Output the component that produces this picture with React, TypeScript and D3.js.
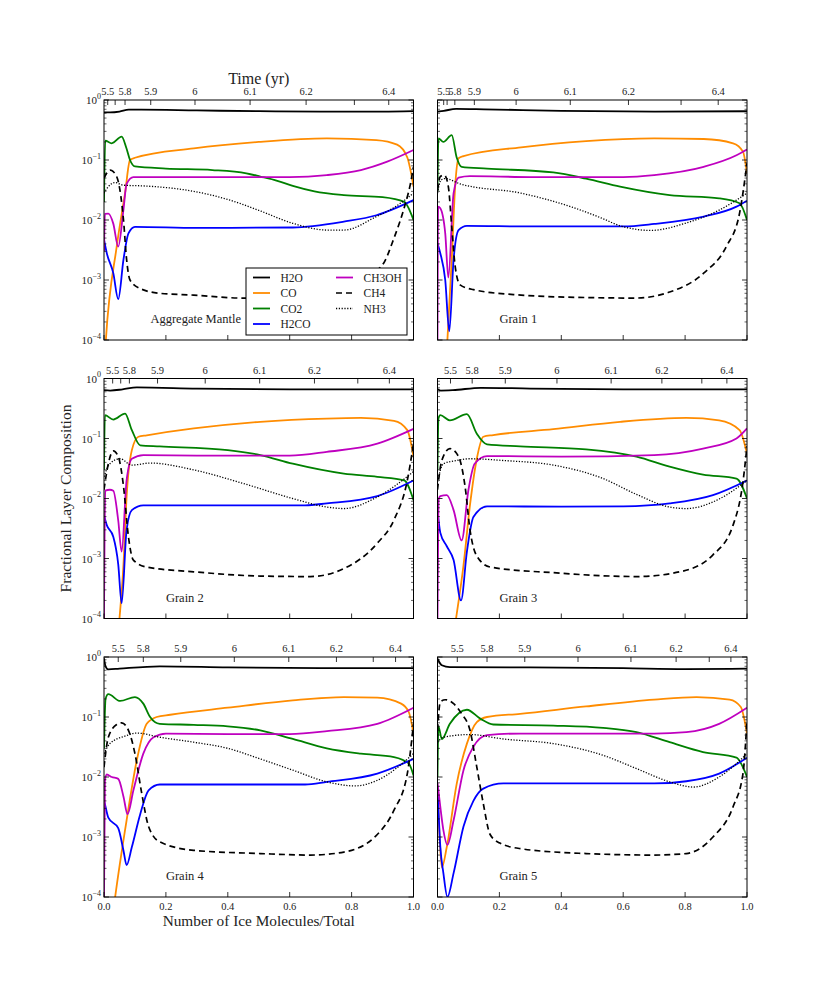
import React from "react";
import * as d3 from "d3";

// species in plotting / legend order
const SPECIES = ["H2O", "CO", "CO2", "H2CO", "CH3OH", "CH4", "NH3"];
const COLORS: Record<string, string> = {
  H2O: "#000000",
  CO: "#ff8c00",
  CO2: "#008000",
  H2CO: "#0000ff",
  CH3OH: "#bf00bf",
  CH4: "#000000",
  NH3: "#000000",
};

// [fraction of ice molecules, fractional composition]
const AGG_H2O = [[0, 0.62], [0.02, 0.62], [0.05, 0.64], [0.08, 0.69], [0.12, 0.69], [0.3, 0.67], [0.5, 0.65], [0.7, 0.64], [0.9, 0.64], [1, 0.65]];
const AGG_CO = [[0, 0.00003], [0.006, 0.0001], [0.041, 0.0036], [0.068, 0.028], [0.084, 0.1], [0.1, 0.109], [0.29, 0.156], [0.5, 0.2], [0.72, 0.23], [0.88, 0.215], [0.947, 0.18], [0.98, 0.11], [1, 0.036]];
const AGG_CO2 = [[0, 0.02], [0.004, 0.21], [0.025, 0.19], [0.057, 0.245], [0.072, 0.16], [0.084, 0.1], [0.1, 0.078], [0.2, 0.072], [0.35, 0.068], [0.46, 0.06], [0.505, 0.053], [0.56, 0.045], [0.61, 0.037], [0.68, 0.03], [0.775, 0.026], [0.9, 0.024], [0.97, 0.02], [1, 0.01]];
const AGG_H2CO = [[0, 0.0047], [0.009, 0.0028], [0.03, 0.0013], [0.046, 0.00048], [0.063, 0.0022], [0.079, 0.006], [0.1, 0.0077], [0.3, 0.0074], [0.61, 0.0075], [0.775, 0.0094], [0.88, 0.012], [1, 0.0215]];
const AGG_CH3OH = [[0, 0.003], [0.003, 0.0126], [0.014, 0.0128], [0.03, 0.0087], [0.046, 0.0036], [0.063, 0.015], [0.073, 0.04], [0.095, 0.052], [0.3, 0.052], [0.6, 0.052], [0.72, 0.056], [0.83, 0.068], [0.915, 0.094], [1, 0.147]];
const AGG_CH4 = [[0, 0.05], [0.02, 0.068], [0.03, 0.064], [0.046, 0.044], [0.063, 0.01], [0.073, 0.0022], [0.084, 0.001], [0.117, 0.00072], [0.18, 0.0006], [0.29, 0.00056], [0.45, 0.0005], [0.6, 0.0005], [0.72, 0.00058], [0.82, 0.001], [0.9, 0.0018], [0.937, 0.005], [0.97, 0.016], [0.99, 0.04], [1, 0.077]];
const AGG_NH3 = [[0, 0.028], [0.014, 0.036], [0.036, 0.042], [0.063, 0.038], [0.127, 0.037], [0.29, 0.03], [0.4, 0.022], [0.5, 0.0145], [0.61, 0.0088], [0.72, 0.0068], [0.775, 0.0068], [0.88, 0.0114], [0.94, 0.0165], [1, 0.028]];

const G1_H2O = [[0, 0.64], [0.02, 0.66], [0.06, 0.71], [0.15, 0.7], [0.4, 0.66], [0.7, 0.64], [1, 0.65]];
const G1_CO = [[0, 0.000001], [0.032, 0.0001], [0.046, 0.0022], [0.057, 0.036], [0.068, 0.107], [0.084, 0.116], [0.27, 0.163], [0.48, 0.207], [0.7, 0.23], [0.86, 0.224], [0.955, 0.19], [0.987, 0.138], [1, 0.06]];
const G1_CO2 = [[0, 0.03], [0.003, 0.23], [0.019, 0.2], [0.046, 0.26], [0.062, 0.11], [0.078, 0.077], [0.16, 0.072], [0.374, 0.062], [0.48, 0.049], [0.59, 0.036], [0.75, 0.026], [0.91, 0.023], [0.976, 0.019], [1, 0.01]];
const G1_H2CO = [[0, 0.0041], [0.009, 0.0028], [0.025, 0.001], [0.038, 0.00014], [0.052, 0.0022], [0.068, 0.0068], [0.095, 0.008], [0.3, 0.0078], [0.6, 0.0078], [0.7, 0.0086], [0.86, 0.0114], [0.966, 0.0167], [1, 0.021]];
const G1_CH3OH = [[0, 0.0001], [0.002, 0.0167], [0.009, 0.0157], [0.025, 0.006], [0.035, 0.0011], [0.052, 0.028], [0.068, 0.051], [0.105, 0.054], [0.3, 0.052], [0.6, 0.052], [0.7, 0.056], [0.86, 0.077], [0.966, 0.12], [1, 0.15]];
const G1_CH4 = [[0, 0.031], [0.009, 0.053], [0.022, 0.056], [0.035, 0.036], [0.046, 0.0077], [0.057, 0.0017], [0.073, 0.00083], [0.116, 0.00069], [0.27, 0.00056], [0.48, 0.00051], [0.64, 0.0005], [0.75, 0.00063], [0.86, 0.0013], [0.933, 0.0036], [0.976, 0.013], [1, 0.088]];
const G1_NH3 = [[0, 0.028], [0.011, 0.046], [0.025, 0.049], [0.073, 0.04], [0.27, 0.028], [0.43, 0.0167], [0.535, 0.0105], [0.59, 0.008], [0.69, 0.0067], [0.8, 0.0088], [0.91, 0.0146], [1, 0.028]];

const G2_H2O = [[0, 0.64], [0.02, 0.63], [0.06, 0.66], [0.106, 0.71], [0.3, 0.68], [0.6, 0.66], [1, 0.66]];
const G2_CO = [[0, 0.000001], [0.05, 0.0001], [0.063, 0.0008], [0.073, 0.0106], [0.09, 0.064], [0.111, 0.107], [0.138, 0.113], [0.29, 0.147], [0.505, 0.19], [0.72, 0.215], [0.83, 0.22], [0.937, 0.197], [0.98, 0.138], [1, 0.05]];
const G2_CO2 = [[0, 0.03], [0.003, 0.245], [0.03, 0.207], [0.068, 0.26], [0.09, 0.138], [0.117, 0.077], [0.18, 0.074], [0.4, 0.064], [0.505, 0.053], [0.61, 0.038], [0.775, 0.026], [0.883, 0.023], [0.97, 0.02], [1, 0.0094]];
const G2_H2CO = [[0, 0.0052], [0.009, 0.0036], [0.03, 0.0023], [0.046, 0.0008], [0.057, 0.00018], [0.073, 0.003], [0.09, 0.0064], [0.127, 0.0077], [0.4, 0.0077], [0.65, 0.0077], [0.72, 0.0083], [0.883, 0.011], [1, 0.02]];
const G2_CH3OH = [[0, 0.0001], [0.004, 0.0135], [0.019, 0.014], [0.03, 0.0135], [0.046, 0.0043], [0.057, 0.0013], [0.073, 0.02], [0.09, 0.046], [0.127, 0.053], [0.3, 0.052], [0.6, 0.052], [0.72, 0.06], [0.883, 0.082], [1, 0.145]];
const G2_CH4 = [[0, 0.014], [0.014, 0.038], [0.03, 0.062], [0.046, 0.05], [0.063, 0.016], [0.079, 0.0023], [0.095, 0.00094], [0.138, 0.00072], [0.29, 0.0006], [0.505, 0.00051], [0.667, 0.0005], [0.775, 0.00068], [0.883, 0.0018], [0.937, 0.0044], [0.98, 0.02], [1, 0.082]];
const G2_NH3 = [[0, 0.023], [0.019, 0.038], [0.052, 0.046], [0.09, 0.036], [0.149, 0.039], [0.29, 0.03], [0.45, 0.0178], [0.61, 0.01], [0.72, 0.0072], [0.775, 0.0068], [0.883, 0.0106], [1, 0.028]];

const G3_H2O = [[0, 0.66], [0.01, 0.63], [0.05, 0.64], [0.14, 0.7], [0.3, 0.68], [0.6, 0.66], [1, 0.66]];
const G3_CO = [[0, 0.000001], [0.06, 0.0001], [0.084, 0.00077], [0.105, 0.0078], [0.127, 0.046], [0.148, 0.107], [0.18, 0.114], [0.374, 0.143], [0.59, 0.19], [0.804, 0.22], [0.91, 0.2], [0.976, 0.138], [1, 0.056]];
const G3_CO2 = [[0, 0.03], [0.003, 0.215], [0.009, 0.245], [0.04, 0.2], [0.095, 0.255], [0.127, 0.12], [0.16, 0.08], [0.267, 0.074], [0.48, 0.066], [0.643, 0.05], [0.75, 0.034], [0.858, 0.025], [0.966, 0.0215], [1, 0.01]];
const G3_H2CO = [[0, 0.0064], [0.009, 0.0027], [0.03, 0.0016], [0.052, 0.00094], [0.076, 0.0002], [0.095, 0.0013], [0.116, 0.0049], [0.16, 0.0074], [0.4, 0.0073], [0.6, 0.0074], [0.75, 0.0083], [0.89, 0.0114], [1, 0.02]];
const G3_CH3OH = [[0, 0.0001], [0.003, 0.0094], [0.009, 0.011], [0.03, 0.0114], [0.052, 0.0064], [0.078, 0.002], [0.1, 0.014], [0.12, 0.038], [0.16, 0.051], [0.4, 0.05], [0.7, 0.053], [0.858, 0.068], [0.966, 0.1], [1, 0.147]];
const G3_CH4 = [[0, 0.014], [0.014, 0.043], [0.04, 0.068], [0.068, 0.05], [0.089, 0.016], [0.105, 0.003], [0.127, 0.0011], [0.17, 0.00072], [0.374, 0.00058], [0.643, 0.0005], [0.783, 0.0006], [0.89, 0.00115], [0.955, 0.0036], [0.987, 0.019], [1, 0.074]];
const G3_NH3 = [[0, 0.019], [0.019, 0.038], [0.062, 0.043], [0.105, 0.046], [0.213, 0.043], [0.374, 0.036], [0.535, 0.0215], [0.643, 0.0117], [0.75, 0.0072], [0.804, 0.0068], [0.91, 0.0098], [1, 0.02]];

const G4_H2O = [[0, 0.95], [0.005, 0.7], [0.014, 0.62], [0.05, 0.64], [0.18, 0.7], [0.4, 0.67], [0.7, 0.65], [1, 0.655]];
const G4_CO = [[0, 0.000003], [0.036, 0.0001], [0.073, 0.0019], [0.106, 0.019], [0.138, 0.077], [0.17, 0.1], [0.214, 0.109], [0.4, 0.143], [0.61, 0.19], [0.775, 0.215], [0.883, 0.21], [0.96, 0.167], [0.985, 0.12], [1, 0.053]];
const G4_CO2 = [[0, 0.03], [0.005, 0.2], [0.014, 0.24], [0.052, 0.185], [0.1, 0.215], [0.127, 0.167], [0.149, 0.1], [0.18, 0.077], [0.29, 0.074], [0.4, 0.07], [0.505, 0.06], [0.61, 0.043], [0.72, 0.03], [0.83, 0.0245], [0.937, 0.0215], [0.985, 0.0167], [1, 0.0106]];
const G4_H2CO = [[0, 0.004], [0.003, 0.0035], [0.014, 0.0021], [0.046, 0.0014], [0.063, 0.00059], [0.073, 0.00034], [0.09, 0.00068], [0.117, 0.0024], [0.144, 0.006], [0.18, 0.0075], [0.4, 0.0075], [0.65, 0.0075], [0.72, 0.0083], [0.883, 0.0114], [1, 0.02]];
const G4_CH3OH = [[0, 0.0001], [0.003, 0.0088], [0.009, 0.011], [0.025, 0.01], [0.046, 0.0093], [0.063, 0.0047], [0.076, 0.0024], [0.095, 0.006], [0.127, 0.0245], [0.16, 0.046], [0.2, 0.053], [0.4, 0.052], [0.6, 0.052], [0.72, 0.058], [0.883, 0.077], [1, 0.143]];
const G4_CH4 = [[0, 0.0146], [0.014, 0.046], [0.041, 0.075], [0.057, 0.08], [0.079, 0.06], [0.1, 0.0245], [0.122, 0.0053], [0.144, 0.0015], [0.18, 0.00083], [0.29, 0.0006], [0.505, 0.00053], [0.667, 0.0005], [0.775, 0.00056], [0.883, 0.0011], [0.937, 0.0028], [0.98, 0.0114], [1, 0.077]];
const G4_NH3 = [[0, 0.0245], [0.019, 0.036], [0.073, 0.049], [0.106, 0.054], [0.18, 0.046], [0.29, 0.038], [0.4, 0.03], [0.505, 0.02], [0.61, 0.013], [0.72, 0.0083], [0.81, 0.0071], [0.883, 0.0088], [1, 0.0245]];

const G5_H2O = [[0, 0.94], [0.014, 0.73], [0.04, 0.68], [0.3, 0.67], [0.6, 0.65], [0.8, 0.63], [1, 0.64]];
const G5_CO = [[0, 0.006], [0.006, 0.0012], [0.014, 0.00031], [0.03, 0.00068], [0.062, 0.0077], [0.095, 0.036], [0.127, 0.082], [0.16, 0.1], [0.267, 0.113], [0.48, 0.15], [0.7, 0.195], [0.837, 0.215], [0.944, 0.195], [0.98, 0.147], [1, 0.053]];
const G5_CO2 = [[0, 0.01], [0.003, 0.07], [0.014, 0.043], [0.04, 0.077], [0.095, 0.132], [0.138, 0.094], [0.18, 0.075], [0.374, 0.072], [0.535, 0.066], [0.643, 0.056], [0.75, 0.038], [0.858, 0.026], [0.966, 0.021], [1, 0.01]];
const G5_H2CO = [[0, 0.007], [0.009, 0.0007], [0.019, 0.00025], [0.032, 0.0001], [0.052, 0.00025], [0.084, 0.0015], [0.116, 0.004], [0.148, 0.0064], [0.213, 0.0078], [0.5, 0.0078], [0.7, 0.0078], [0.804, 0.0085], [0.91, 0.0114], [1, 0.021]];
const G5_CH3OH = [[0, 0.008], [0.009, 0.0032], [0.019, 0.0013], [0.032, 0.00074], [0.052, 0.0019], [0.084, 0.013], [0.116, 0.032], [0.16, 0.05], [0.267, 0.053], [0.5, 0.053], [0.7, 0.053], [0.804, 0.056], [0.91, 0.077], [1, 0.143]];
const G5_CH4 = [[0, 0.06], [0.009, 0.178], [0.025, 0.194], [0.052, 0.167], [0.078, 0.113], [0.105, 0.06], [0.127, 0.0146], [0.148, 0.0036], [0.17, 0.0011], [0.2, 0.0008], [0.267, 0.00064], [0.48, 0.00053], [0.7, 0.0005], [0.804, 0.00053], [0.89, 0.001], [0.955, 0.0032], [0.987, 0.0114], [1, 0.088]];
const G5_NH3 = [[0, 0.038], [0.019, 0.046], [0.105, 0.051], [0.213, 0.043], [0.374, 0.036], [0.535, 0.023], [0.643, 0.0138], [0.75, 0.0083], [0.826, 0.0068], [0.91, 0.01], [1, 0.0245]];

// top (time) axis: tick position as fraction of the x range, and its label
const TOP_LABELS_9 = ["5.5", "", "5.8", "5.9", "6", "6.1", "6.2", "", "6.4"];
const TOP_LABELS_8 = ["5.5", "5.8", "5.9", "6", "6.1", "6.2", "", "6.4"];
const AGG_TOP = [0.012, 0.036, 0.068, 0.151, 0.294, 0.472, 0.653, 0.809, 0.92];
const G1_TOP = [0.02, 0.031, 0.056, 0.119, 0.254, 0.429, 0.617, 0.787, 0.907];
const G2_TOP = [0.028, 0.054, 0.082, 0.173, 0.327, 0.503, 0.68, 0.82, 0.922];
const G3_TOP = [0.042, 0.112, 0.219, 0.386, 0.561, 0.725, 0.854, 0.935];
const G4_TOP = [0.046, 0.127, 0.248, 0.421, 0.597, 0.751, 0.87, 0.942];
const G5_TOP = [0.064, 0.16, 0.282, 0.454, 0.625, 0.771, 0.878, 0.948];

const BOTTOM_TICKS = [0, 0.2, 0.4, 0.6, 0.8, 1.0];
const Y_DECADES = [0, -1, -2, -3, -4];

const panels = [
  { name: "Aggregate Mantle", nameAt: 0.15, col: 0, row: 0, top: AGG_TOP, topLabels: TOP_LABELS_9,
    series: [AGG_H2O, AGG_CO, AGG_CO2, AGG_H2CO, AGG_CH3OH, AGG_CH4, AGG_NH3] },
  { name: "Grain 1", nameAt: 0.2, col: 1, row: 0, top: G1_TOP, topLabels: TOP_LABELS_9,
    series: [G1_H2O, G1_CO, G1_CO2, G1_H2CO, G1_CH3OH, G1_CH4, G1_NH3] },
  { name: "Grain 2", nameAt: 0.2, col: 0, row: 1, top: G2_TOP, topLabels: TOP_LABELS_9,
    series: [G2_H2O, G2_CO, G2_CO2, G2_H2CO, G2_CH3OH, G2_CH4, G2_NH3] },
  { name: "Grain 3", nameAt: 0.2, col: 1, row: 1, top: G3_TOP, topLabels: TOP_LABELS_8,
    series: [G3_H2O, G3_CO, G3_CO2, G3_H2CO, G3_CH3OH, G3_CH4, G3_NH3] },
  { name: "Grain 4", nameAt: 0.2, col: 0, row: 2, top: G4_TOP, topLabels: TOP_LABELS_8,
    series: [G4_H2O, G4_CO, G4_CO2, G4_H2CO, G4_CH3OH, G4_CH4, G4_NH3] },
  { name: "Grain 5", nameAt: 0.2, col: 1, row: 2, top: G5_TOP, topLabels: TOP_LABELS_8,
    series: [G5_H2O, G5_CO, G5_CO2, G5_H2CO, G5_CH3OH, G5_CH4, G5_NH3] },
];

const W = 830;
const H = 997;
const COL_X = [104, 437.5];
const ROW_Y = [100, 378.5, 657];
const PW = 309.5;
const PH = 240;
const FONT = "'Liberation Serif', 'DejaVu Serif', serif";

function styleFor(sp: string) {
  if (sp === "CH4") return { dash: "6,4", width: 1.7 };
  if (sp === "NH3") return { dash: "1.2,1.6", width: 1.3 };
  return { dash: undefined, width: 1.8 };
}

const Panel = ({ p, idx }) => {
  const x0 = COL_X[p.col];
  const y0 = ROW_Y[p.row];
  const xs = d3.scaleLinear().domain([0, 1]).range([0, PW]);
  const ys = d3.scaleLog().domain([1e-4, 1]).range([PH, 0]);
  const line = d3
    .line<number[]>()
    .x((d) => xs(d[0]))
    .y((d) => ys(Math.max(d[1], 1e-8)))
    .curve(d3.curveMonotoneX);

  const minor: number[] = [];
  for (let e = -4; e < 0; e++) for (let m = 2; m <= 9; m++) minor.push(m * Math.pow(10, e));

  const clipId = `clip${idx}`;
  const leftCol = p.col === 0;
  const bottomRow = p.row === 2;

  return (
    <g transform={`translate(${x0},${y0})`}>
      <defs>
        <clipPath id={clipId}>
          <rect x={0} y={0} width={PW} height={PH} />
        </clipPath>
      </defs>
      <g clipPath={`url(#${clipId})`}>
        {p.series.map((s, i) => {
          const sp = SPECIES[i];
          const st = styleFor(sp);
          return (
            <path key={sp} d={line(s) || ""} fill="none" stroke={COLORS[sp]}
              strokeWidth={st.width} strokeDasharray={st.dash} strokeLinejoin="round" />
          );
        })}
      </g>
      {/* y ticks, both sides */}
      {Y_DECADES.map((e) => {
        const y = ys(Math.pow(10, e));
        return (
          <g key={"yM" + e}>
            <line x1={0} x2={5} y1={y} y2={y} stroke="#000" strokeWidth={0.8} />
            <line x1={PW - 5} x2={PW} y1={y} y2={y} stroke="#000" strokeWidth={0.8} />
            {leftCol && (
              <text x={-3} y={y + 4} textAnchor="end" fontFamily={FONT} fontSize={11} fill="#222">
                10<tspan dy={-5.5} fontSize={8}>{e === 0 ? "0" : "\u2212" + -e}</tspan>
              </text>
            )}
          </g>
        );
      })}
      {minor.map((v) => {
        const y = ys(v);
        return (
          <g key={"ym" + v}>
            <line x1={0} x2={2.5} y1={y} y2={y} stroke="#000" strokeWidth={0.6} />
            <line x1={PW - 2.5} x2={PW} y1={y} y2={y} stroke="#000" strokeWidth={0.6} />
          </g>
        );
      })}
      {/* bottom ticks */}
      {BOTTOM_TICKS.map((t) => (
        <g key={"b" + t}>
          <line x1={xs(t)} x2={xs(t)} y1={PH} y2={PH - 5} stroke="#000" strokeWidth={0.8} />
          {bottomRow && (
            <text x={xs(t)} y={PH + 12.5} textAnchor="middle" fontFamily={FONT} fontSize={10.5} fill="#222">
              {t.toFixed(1)}
            </text>
          )}
        </g>
      ))}
      {/* top time ticks */}
      {p.top.map((t, i) => (
        <g key={"t" + i}>
          <line x1={xs(t)} x2={xs(t)} y1={0} y2={5} stroke="#000" strokeWidth={0.8} />
          <text x={xs(t)} y={-5} textAnchor="middle" fontFamily={FONT} fontSize={10.5} fill="#222">
            {p.topLabels[i]}
          </text>
        </g>
      ))}
      <rect x={0} y={0} width={PW} height={PH} fill="none" stroke="#000" strokeWidth={1} />
      <text x={xs(p.nameAt)} y={PH - 17} fontFamily={FONT} fontSize={12.5} fill="#222">
        {p.name}
      </text>
    </g>
  );
};

const Legend = () => {
  const lx = COL_X[0] + 142;
  const ly = ROW_Y[0] + 168;
  const cols = [SPECIES.slice(0, 4), SPECIES.slice(4)];
  return (
    <g transform={`translate(${lx},${ly})`}>
      <rect x={0} y={0} width={161} height={67} fill="#fff" stroke="#000" strokeWidth={1} />
      {cols.map((c, ci) =>
        c.map((sp, ri) => {
          const st = styleFor(sp);
          const bx = 7 + ci * 83;
          const by = 9.5 + ri * 15.5;
          return (
            <g key={sp}>
              <line x1={bx} x2={bx + 17} y1={by} y2={by} stroke={COLORS[sp]}
                strokeWidth={st.width} strokeDasharray={st.dash} />
              <text x={bx + 27.5} y={by + 4} fontFamily={FONT} fontSize={11.5} fill="#222">
                {sp}
              </text>
            </g>
          );
        })
      )}
    </g>
  );
};

export default function App() {
  return (
    <svg width={W} height={H} style={{ position: "absolute", left: 0, top: 0, background: "#fff" }}>
      <rect x={0} y={0} width={W} height={H} fill="#fff" />
      {panels.map((p, i) => (
        <Panel key={p.name} p={p} idx={i} />
      ))}
      <Legend />
      <text x={COL_X[0] + PW / 2} y={84} textAnchor="middle" fontFamily={FONT} fontSize={16} fill="#222">
        Time (yr)
      </text>
      <text x={COL_X[0] + PW / 2} y={926} textAnchor="middle" fontFamily={FONT} fontSize={15.3} fill="#222">
        Number of Ice Molecules/Total
      </text>
      <text transform={`translate(71,${(ROW_Y[0] + ROW_Y[2] + PH) / 2}) rotate(-90)`} textAnchor="middle"
        fontFamily={FONT} fontSize={15.6} fill="#222">
        Fractional Layer Composition
      </text>
    </svg>
  );
}
